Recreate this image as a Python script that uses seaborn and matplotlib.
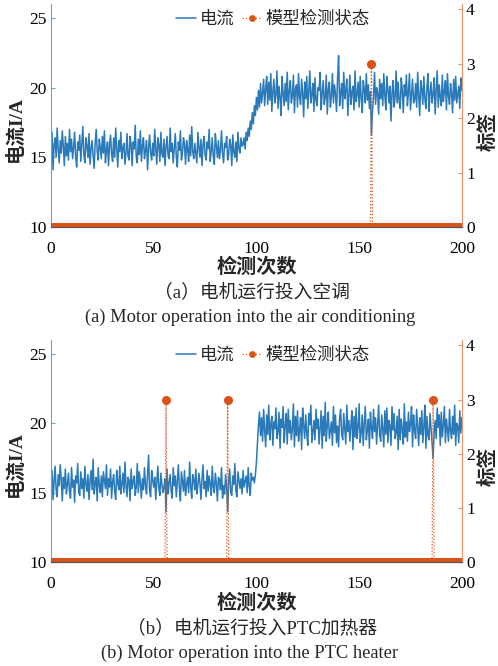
import numpy as np
import pandas as pd
import matplotlib
matplotlib.use("Agg")
import matplotlib.pyplot as plt
import seaborn as sns

# detection index: 0..200 in steps of 0.5
x_step = 0.5

# (a) motor + air conditioning: current readings (A)
current_a = [
    13.9, 16.8, 14.1, 15.9, 16.4, 15.0, 17.1, 15.6, 14.6, 16.2,
    15.3, 16.9, 15.8, 14.4, 16.5, 15.1, 16.0, 14.8, 17.0, 15.4,
    16.3, 14.9, 15.7, 16.8, 15.0, 14.3, 16.1, 15.5, 16.6, 14.7,
    15.9, 17.2, 15.2, 14.6, 16.4, 15.8, 15.0, 16.7, 14.5, 15.6,
    16.2, 15.1, 14.2, 16.0, 17.0, 15.4, 14.8, 16.3, 15.7, 14.9,
    16.5, 15.3, 16.9, 14.6, 15.5, 16.1, 14.4, 15.9, 16.6, 15.2,
    14.7, 16.4, 15.0, 17.1, 15.6, 14.3, 16.2, 15.4, 16.8, 14.9,
    15.7, 16.0, 14.5, 15.3, 16.7, 15.1, 14.8, 16.5, 15.9, 14.4,
    16.1, 15.6, 17.3, 15.0, 14.6, 16.3, 15.2, 16.9, 14.7, 15.8,
    16.4, 14.9, 15.5, 16.2, 14.1, 15.7, 16.6, 15.3, 14.8, 16.0,
    15.1, 17.0, 15.6, 14.5, 16.4, 15.9, 14.7, 16.8, 15.2, 15.0,
    16.3, 14.4, 15.8, 16.5, 15.1, 14.9, 17.1, 15.4, 16.0, 14.6,
    15.7, 16.7, 15.0, 14.3, 16.1, 15.5, 16.9, 14.8, 15.3, 16.4,
    15.9, 14.5, 16.2, 15.6, 14.7, 16.6, 15.1, 17.2, 15.4, 14.9,
    16.0, 15.3, 14.6, 16.8, 15.7, 15.0, 16.3, 14.4, 15.9, 16.5,
    15.2, 14.8, 16.1, 15.6, 17.0, 14.7, 15.4, 16.4, 15.1, 14.5,
    16.7, 15.8, 15.0, 16.2, 14.9, 15.5, 16.9, 15.3, 14.6, 16.0,
    15.7, 16.5, 14.8, 15.2, 16.3, 15.9, 14.4, 16.6, 15.4, 15.0,
    16.1, 14.7, 16.8, 15.6, 15.3, 16.4, 15.8,
    15.9, 16.4, 15.6, 16.8, 16.2, 17.1, 16.5, 17.6, 17.0, 18.2,
    17.4, 18.7, 18.0, 19.3, 18.4, 19.8, 18.6, 20.3, 18.9, 19.6,
    20.6, 18.7, 19.9, 20.8,
    18.8, 20.4, 19.1, 21.0, 18.3, 19.7, 20.6, 18.9, 19.5, 21.2,
    18.5, 20.1, 19.3, 18.0, 20.8, 19.6, 18.7, 20.3, 19.0, 21.1,
    18.4, 19.8, 20.5, 18.9, 19.4, 20.9, 18.2, 19.9, 20.2, 18.6,
    21.0, 19.3, 18.8, 20.6, 19.6, 17.9, 20.4, 19.2, 20.8, 18.5,
    19.7, 21.2, 18.9, 19.5, 20.3, 18.3, 20.7, 19.1, 18.7, 20.0,
    19.8, 21.1, 18.4, 19.6, 20.5, 18.8, 19.3, 20.9, 18.1, 19.9,
    20.4, 18.6, 19.4, 21.0, 18.9, 20.2, 19.5, 18.3, 20.7, 22.3,
    18.7, 19.6, 20.3, 18.5, 21.1, 19.2, 19.8, 20.6, 18.0, 19.4,
    20.9, 18.8, 19.7, 20.1, 18.4, 21.2, 19.0, 19.5, 20.4, 18.6,
    20.8, 19.3, 18.2, 20.5, 19.9, 18.9, 21.0, 19.1, 20.2, 18.5,
    19.7, 16.6, 18.3, 19.4, 21.1, 18.8, 20.0, 19.6, 18.1, 20.6,
    19.2, 20.3, 18.7, 21.0, 19.5, 18.4, 20.8, 19.9, 18.9, 20.1,
    17.6, 19.6, 20.5, 18.6, 19.3, 21.2, 18.9, 20.4, 19.0, 18.5,
    20.7, 19.8, 18.2, 20.2, 19.4, 20.9, 18.7, 19.7, 21.0, 18.4,
    19.5, 20.6, 18.9, 19.1, 20.3, 18.6, 21.1, 19.4, 18.0, 20.5,
    19.9, 18.8, 20.8, 19.2, 18.5, 20.0, 21.0, 18.3, 19.6, 20.4,
    18.9, 19.5, 20.7, 18.1, 19.8, 21.2, 18.6, 20.2, 19.3, 18.7,
    20.9, 19.0, 19.7, 20.5, 18.4, 21.0, 19.4, 18.8, 20.3, 19.6,
    18.2, 20.6, 19.1, 20.8, 18.9, 19.5, 20.1, 18.5, 20.7, 19.8,
]

# (b) motor + PTC heater: current readings (A)
current_b = [
    15.0, 16.6, 14.5, 15.8, 16.9, 15.2, 14.7, 16.3, 15.5, 17.0,
    15.9, 14.4, 16.1, 15.3, 16.7, 14.9, 15.6, 16.4, 15.1, 14.6,
    16.8, 15.4, 15.9, 14.3, 16.2, 15.7, 17.1, 15.0, 14.8, 16.5,
    15.3, 16.0, 14.6, 16.9, 15.6, 15.1, 16.3, 14.5, 15.8, 16.6,
    15.2, 17.4, 14.9, 15.7, 16.1, 14.4, 16.8, 15.5, 15.0, 16.2,
    14.7, 16.5, 15.9, 15.3, 17.0, 14.8, 16.0, 15.4, 16.7, 14.6,
    15.8, 16.3, 15.1, 14.5, 16.6, 15.7, 15.2, 16.9, 14.9, 15.6,
    16.4, 15.0, 17.2, 15.5, 14.7, 16.1, 15.9, 14.4, 16.7, 15.3,
    15.8, 16.2, 14.8, 15.4, 17.1, 15.0, 16.5, 15.7, 14.6, 16.0,
    15.2, 16.8, 15.5, 14.9, 16.3, 17.7, 15.1, 14.7, 16.6, 15.9,
    15.4, 16.1, 14.5, 15.8, 16.9, 15.3, 14.8, 16.4, 15.6, 15.0,
    15.4, 16.0, 13.6, 16.7, 14.9, 15.7, 16.3, 15.1, 14.6, 16.8,
    15.5, 16.2, 14.7, 15.9, 17.0, 15.3, 14.4, 16.5, 15.8, 15.1,
    16.6, 14.8, 15.6, 16.1, 15.0, 17.2, 15.4, 14.6, 16.3, 15.9,
    15.2, 16.7, 14.9, 15.5, 16.4, 15.7, 14.5, 16.0, 17.0, 15.3,
    15.8, 14.7, 16.6, 15.1, 16.2, 15.6, 14.8, 16.9, 15.4, 15.0,
    16.4, 15.7, 14.4, 16.1, 15.9, 15.2, 16.8, 14.6, 15.5, 14.9,
    16.3, 15.4, 13.6, 15.8, 16.7, 15.0, 14.8, 16.2, 15.6, 17.1,
    15.1, 14.7, 16.5, 15.9, 15.3, 16.0, 14.9, 16.6, 15.4, 15.8,
    16.2, 15.0, 16.8, 15.5, 14.8, 16.4, 15.9, 16.1, 15.7, 16.3,
    17.2, 18.6, 19.9, 20.8, 19.1, 20.4, 18.7, 21.0, 19.5, 18.3,
    20.6, 19.2, 21.3, 18.8, 19.9, 20.5, 18.4, 20.1, 19.6, 21.1,
    18.9, 19.4, 20.8, 18.2, 20.3, 19.7, 21.2, 18.6, 19.8, 20.7,
    18.5, 21.0, 19.3, 20.2, 18.8, 19.6, 21.4, 18.3, 20.5, 19.1,
    20.9, 18.7, 19.5, 20.4, 18.1, 21.1, 19.8, 18.9, 20.6, 19.3,
    18.4, 20.7, 19.9, 21.3, 18.6, 19.4, 20.2, 18.8, 21.0, 19.6,
    20.3, 18.5, 19.7, 20.9, 18.2, 20.5, 19.1, 21.5, 18.7, 19.9,
    20.8, 18.9, 19.5, 20.1, 18.4, 21.2, 19.3, 20.6, 18.6, 19.8,
    18.3, 20.4, 21.0, 19.2, 18.8, 20.7, 19.6, 18.5, 21.3, 19.4,
    20.2, 18.7, 19.9, 20.9, 18.1, 20.5, 19.0, 21.1, 18.9, 19.7,
    21.4, 18.6, 19.3, 20.6, 18.4, 20.0, 21.2, 18.8, 19.5, 20.3,
    18.2, 20.8, 19.7, 18.9, 21.0, 19.4, 20.4, 18.5, 19.9, 21.3,
    19.1, 18.7, 20.6, 19.6, 18.3, 20.9, 19.2, 21.1, 18.6, 20.2,
    19.8, 18.4, 21.2, 19.5, 20.7, 18.9, 19.3, 20.5, 18.1, 21.0,
    18.8, 20.3, 19.6, 18.5, 21.4, 19.0, 20.1, 18.7, 20.8, 19.4,
    19.9, 21.2, 18.3, 20.6, 19.5, 18.9, 21.0, 19.7, 18.4, 20.4,
    19.2, 20.9, 18.6, 19.8, 21.3, 18.2, 20.5, 19.1, 18.8, 20.7,
    19.6, 18.5, 17.5, 19.3, 20.2, 18.9, 21.1, 19.7, 20.6, 18.4,
    20.8, 19.0, 19.9, 21.2, 18.6, 20.3, 19.5, 18.7, 21.0, 19.4,
    18.9, 20.5, 19.2, 21.3, 18.4, 20.0, 19.8, 18.6, 20.9, 19.3,
    20.4,
]

# positions where the model flagged a state change (label = 3)
detect_a = [156]
detect_b = [56, 86, 186]
flag_value = 3

captions = [
    ("（a）电机运行投入空调", "(a) Motor operation into the air conditioning"),
    ("（b）电机运行投入PTC加热器", "(b) Motor operation into the PTC heater"),
]

BLUE = "#2a7ab9"
ORANGE = "#d95319"

sns.set_style("ticks")
plt.rcParams["font.family"] = ["Liberation Serif", "Noto Sans CJK SC"]
plt.rcParams["axes.unicode_minus"] = False


def build_frame(current, detections):
    x = np.arange(len(current)) * x_step
    state = np.zeros(len(current))
    for d in detections:
        state[int(round(d / x_step))] = flag_value
    return pd.DataFrame({"x": x, "current": current, "state": state})


fig = plt.figure(figsize=(4.98, 6.66), dpi=100)
boxes = [[0.1024, 0.6592, 0.825, 0.3348], [0.1024, 0.1562, 0.825, 0.3333]]
caption_y = [(268, 293, 317), (604, 629, 653)]

for k, (cur, det) in enumerate([(current_a, detect_a), (current_b, detect_b)]):
    df = build_frame(cur, det)
    ax = fig.add_axes(boxes[k])
    ax2 = ax.twinx()

    sns.lineplot(data=df, x="x", y="current", ax=ax, color=BLUE, lw=1.1,
                 label="电流", legend=False)
    sns.lineplot(data=df, x="x", y="state", ax=ax2, color=ORANGE, lw=0.9,
                 linestyle=":", marker="o", markersize=5.5, markeredgewidth=1.0,
                 markerfacecolor=ORANGE, markeredgecolor=ORANGE,
                 label="模型检测状态", legend=False)

    ax.set_xlim(0, 200)
    ax.set_ylim(10, 26)
    ax2.set_ylim(0, 4.1)
    ax.set_xticks([0, 50, 100, 150, 200])
    ax.set_yticks([10, 15, 20, 25])
    ax2.set_yticks([0, 1, 2, 3, 4])

    for a in (ax, ax2):
        a.spines["top"].set_visible(False)
        a.spines["bottom"].set_color("#555555")
    ax.spines["right"].set_visible(False)
    ax.spines["left"].set_color("#5fa6dc")
    ax2.spines["left"].set_visible(False)
    ax2.spines["right"].set_color("#f0906a")
    ax.tick_params(axis="x", direction="in", colors="#555555", labelcolor="black",
                   labelsize=12.5, pad=10, length=3)
    ax.tick_params(axis="y", direction="in", colors="#5fa6dc", labelcolor="black",
                   labelsize=12.5, pad=3, length=3)
    ax2.tick_params(axis="y", direction="in", colors="#f0906a", labelcolor="black",
                    labelsize=12.5, pad=3, length=3)

    ax.set_xlabel("")
    ax.set_ylabel("电流I/A", fontsize=14, fontweight="bold")
    ax2.set_ylabel("标签", fontsize=14, fontweight="bold", rotation=90)
    ax.yaxis.set_label_coords(-0.065, 0.44)
    ax2.yaxis.set_label_coords(1.04, 0.43)

    h1, l1 = ax.get_legend_handles_labels()
    h2, l2 = ax2.get_legend_handles_labels()
    ax2.legend(h1 + h2, l1 + l2, loc="center", bbox_to_anchor=(0.54, 0.928),
               ncol=2, frameon=False, fontsize=12.5, handlelength=1.2,
               handletextpad=0.2, columnspacing=0.4, borderaxespad=0,
               markerscale=0.7)

    y_xl, y_cn, y_en = caption_y[k]
    fig.text(0.516, 1 - y_xl / 666, "检测次数", ha="center", va="center",
             fontsize=14.5, fontweight="bold")
    fig.text(0.506, 1 - y_cn / 666, captions[k][0], ha="center", va="center",
             fontsize=13.5)
    fig.text(0.502, 1 - y_en / 666, captions[k][1], ha="center", va="center",
             fontsize=13.3)

fig.savefig("out.png", dpi=100)
